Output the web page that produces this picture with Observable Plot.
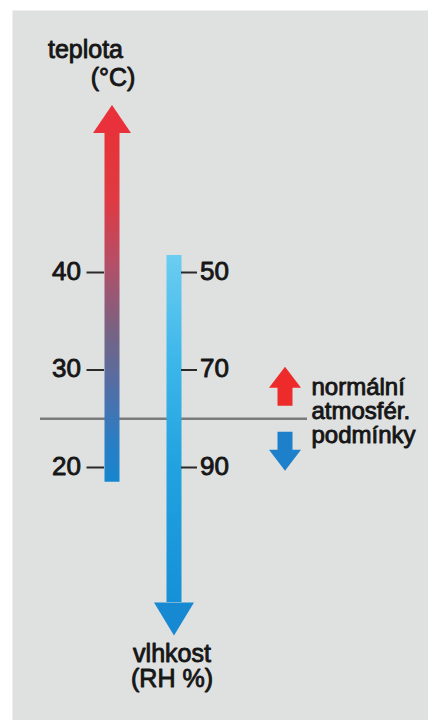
<!DOCTYPE html>
<html><head><meta charset="utf-8">
<script src="https://cdn.jsdelivr.net/npm/d3@7"></script>
<script src="https://cdn.jsdelivr.net/npm/@observablehq/plot@0.6"></script>
<style>
html,body{margin:0;padding:0;background:#fff;}
#chart svg{display:block;}
</style></head><body><div id="chart"></div>
<script>
// ---- data ----
const series = ["teplota", "vlhkost"];
const tempTitle = ["teplota", "(°C)"];
const humTitle = "vlhkost\n(RH %)";
const tempTicks = [20, 30, 40];
const humTicks = [50, 70, 90];
const tempArrow = [18.5, 54.3];   // °C: shaft start, head base
const humArrow = [46.5, 117.7];   // RH %: shaft start, head base
const normalTemp = 25;            // °C (≈ 80 % RH)
const normalLabel = "normální\natmosfér.\npodmínky";

// humidity shares the vertical axis: 50 % ↔ 40 °C, 90 % ↔ 20 °C
const humToT = h => 40 - (h - 50) / 2;

const arrows = [
  {cat: series[0], lo: tempArrow[0], hi: tempArrow[1]},
  {cat: series[1], lo: humToT(humArrow[1]), hi: humToT(humArrow[0])}
];
const tempTickRows = tempTicks.map(t => ({cat: series[0], t, label: t}));
const humTickRows = humTicks.map(h => ({cat: series[1], t: humToT(h), label: h}));

// ---- shapes ----
const headUp = (w, h) => ({draw(c) { c.moveTo(0, -h); c.lineTo(w / 2, 0); c.lineTo(-w / 2, 0); c.closePath(); }});
const headDown = (w, h) => ({draw(c) { c.moveTo(0, h); c.lineTo(w / 2, 0); c.lineTo(-w / 2, 0); c.closePath(); }});
const smallArrow = (s) => ({draw(c) {
  c.moveTo(-7.5, 0); c.lineTo(7.5, 0); c.lineTo(7.5, s * 18); c.lineTo(16, s * 18);
  c.lineTo(0, s * 39); c.lineTo(-16, s * 18); c.lineTo(-7.5, s * 18); c.closePath();
}});

const FONT = "'Liberation Sans', Arial, Helvetica, sans-serif";
const INK = "#161616";
const txt = {fill: INK, stroke: INK, strokeWidth: 0.9, fontSize: 25, lineAnchor: "bottom"};

const svg = Plot.plot({
  width: 428, height: 720,
  marginLeft: 12, marginTop: 10, marginRight: 0, marginBottom: 0,
  style: {background: "#fff", fontFamily: FONT, color: INK},
  x: {type: "band", domain: series, range: [103.5, 181], paddingInner: 0.76, paddingOuter: 0, axis: null},
  y: {domain: [-5, 65], range: [710.75, 28.25], axis: null},
  marks: [
    Plot.frame({fill: "#dfe0e0", stroke: "none"}),
    Plot.ruleY([normalTemp], {stroke: "#7b7b7b", strokeWidth: 2.5, insetLeft: 28, insetRight: 121}),
    // shafts
    Plot.ruleX([arrows[0]], {x: "cat", y1: "lo", y2: "hi", stroke: "url(#gT)", strokeWidth: 15}),
    Plot.ruleX([arrows[1]], {x: "cat", y1: "lo", y2: "hi", stroke: "url(#gH)", strokeWidth: 15}),
    // heads
    Plot.dot([arrows[0]], {x: "cat", y: "hi", symbol: headUp(38, 28), r: 10, fill: "#e8313a", stroke: "none"}),
    Plot.dot([arrows[1]], {x: "cat", y: "lo", symbol: headDown(40, 33), r: 10, fill: "#1789d2", stroke: "none"}),
    // ticks
    Plot.tickY(tempTickRows, {x: "cat", y: "t", stroke: "#2a2a2a", strokeWidth: 2, insetLeft: -17.5, insetRight: 15}),
    Plot.tickY(humTickRows, {x: "cat", y: "t", stroke: "#2a2a2a", strokeWidth: 2, insetLeft: 15, insetRight: -16}),
    Plot.text(tempTickRows, {...txt, x: "cat", y: "t", text: d => String(d.label), textAnchor: "end", dx: -31, dy: 7, fontSize: 26, letterSpacing: 1.5}),
    Plot.text(humTickRows, {...txt, x: "cat", y: "t", text: d => String(d.label), textAnchor: "start", dx: 26, dy: 7, fontSize: 26, letterSpacing: 2.5}),
    // titles
    Plot.text([arrows[0]], {...txt, x: "cat", y: "hi", text: () => tempTitle[0], textAnchor: "end", dx: 11, dy: -75}),
    Plot.text([arrows[0]], {...txt, x: "cat", y: "hi", text: () => tempTitle[1], textAnchor: "middle", dx: 1, dy: -47}),
    Plot.text([arrows[1]], {...txt, x: "cat", y: "lo", text: () => humTitle, textAnchor: "middle", dx: -2, dy: 84, lineHeight: 1}),
    // normal-conditions legend
    Plot.dot([normalTemp], {y: d => d, frameAnchor: "right", dx: -143.5, dy: -13, symbol: smallArrow(-1), r: 5, fill: "#ee2b2b", stroke: "none"}),
    Plot.dot([normalTemp], {y: d => d, frameAnchor: "right", dx: -143.5, dy: 13, symbol: smallArrow(1), r: 5, fill: "#1e80cb", stroke: "none"}),
    Plot.text([normalTemp], {...txt, y: d => d, frameAnchor: "right", text: () => normalLabel, textAnchor: "start", dx: -117, dy: 24, fontSize: 24, lineHeight: 1})
  ]
});

// gradients for the shafts, positioned through the y scale
const y = svg.scale("y");
const ns = "http://www.w3.org/2000/svg";
const defs = document.createElementNS(ns, "defs");
function grad(id, top, bottom, stops) {
  const g = document.createElementNS(ns, "linearGradient");
  g.setAttribute("id", id);
  g.setAttribute("gradientUnits", "userSpaceOnUse");
  g.setAttribute("x1", 0); g.setAttribute("x2", 0);
  g.setAttribute("y1", y.apply(top)); g.setAttribute("y2", y.apply(bottom));
  for (const [o, c] of stops) {
    const s = document.createElementNS(ns, "stop");
    s.setAttribute("offset", o); s.setAttribute("stop-color", c);
    g.appendChild(s);
  }
  defs.appendChild(g);
}
grad("gT", arrows[0].hi, arrows[0].lo, [[0, "#e63338"], [0.19, "#e03a42"], [0.38, "#b44f68"], [0.57, "#776383"], [0.765, "#4a71ae"], [0.88, "#2b7ec3"], [1, "#1786cf"]]);
grad("gH", arrows[1].hi, arrows[1].lo, [[0, "#6ccdf1"], [0.3, "#3db7ea"], [0.6, "#22a3e0"], [1, "#1591d8"]]);
svg.insertBefore(defs, svg.firstChild);

document.getElementById("chart").appendChild(svg);
</script></body></html>
